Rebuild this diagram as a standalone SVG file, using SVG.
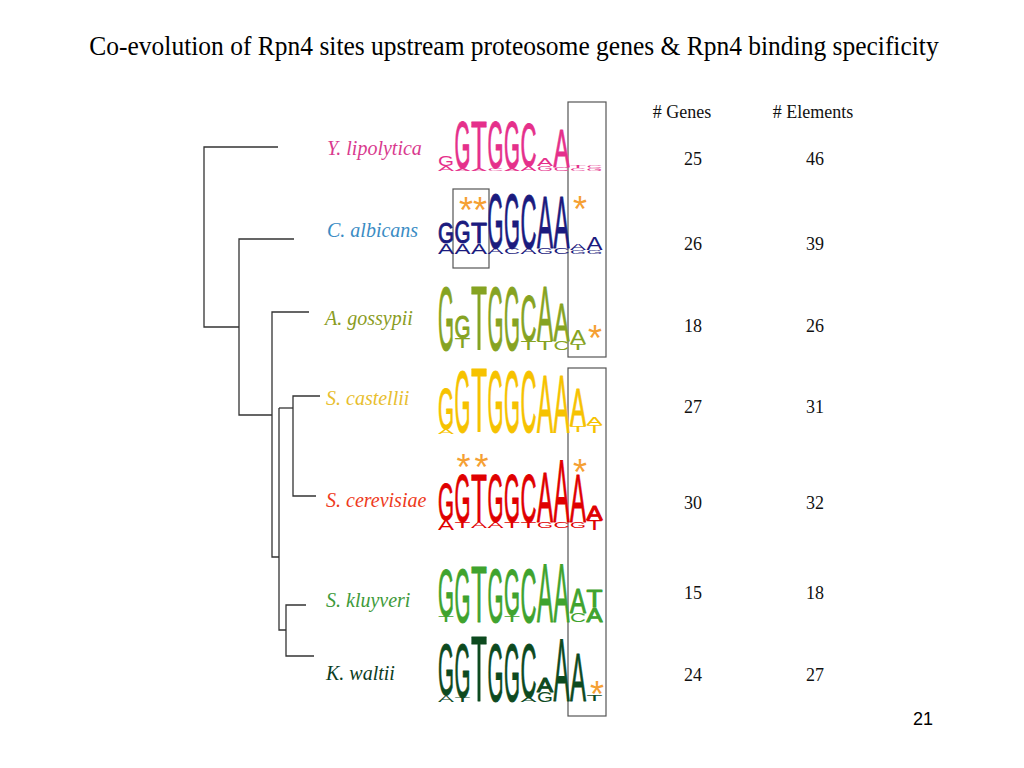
<svg xmlns="http://www.w3.org/2000/svg" width="1024" height="768" viewBox="0 0 1024 768">
<style>
.title{font-family:"Liberation Serif","Times New Roman",serif;font-size:25.5px;fill:#000}
.hdr{font-family:"Liberation Serif","Times New Roman",serif;font-size:18px;fill:#111;text-anchor:middle}
.sp{font-family:"Liberation Serif","Times New Roman",serif;font-style:italic;font-size:20px}
.pg{font-family:"Liberation Sans",Arial,sans-serif;font-size:18px;fill:#000;text-anchor:middle}
.lg text{font-family:"Liberation Sans",Arial,sans-serif;font-weight:normal;stroke-width:1;stroke-linejoin:round}
.lg text.t{stroke:none}
.star{font-family:"Liberation Sans",Arial,sans-serif;font-weight:normal;font-size:36px;fill:#F5A033;text-anchor:middle}
.tree{stroke:#333;stroke-width:1.3;fill:none}
.box{stroke:#555;stroke-width:1.2;fill:none}
</style>
<text class="title" transform="translate(514,55) scale(1,1.07)" text-anchor="middle">Co-evolution of Rpn4 sites upstream proteosome genes &amp; Rpn4 binding specificity</text>

<g id="connectors" class="tree">
<path d="M278,147 H204 V327 H239"/>
<path d="M294,239 H239 V415 H272"/>
<path d="M309,312 H272 V557 H279"/>
<path d="M320,396 H293 V496 H316"/>
<path d="M279,408 H293"/>
<path d="M279,408 V630 H286"/>
<path d="M306,605 H286 V656 H314"/>
</g>

<g id="boxes" class="box">
<rect x="568" y="102" width="38" height="255"/>
<rect x="568" y="368" width="38" height="348"/>
<rect x="453" y="189" width="36" height="79"/>
</g>

<g id="headers">
<text class="hdr" x="682" y="118"># Genes</text>
<text class="hdr" x="813" y="118"># Elements</text>
</g>

<g id="node-ylipolytica">
<text class="sp" x="327" y="155" fill="#D93A8E">Y. lipolytica</text>
<g class="lg" fill="#E5308B" stroke="#E5308B">
<text class="t" x="438" y="166" font-size="14" textLength="16" lengthAdjust="spacingAndGlyphs">G</text>
<text class="t" x="438" y="171" font-size="7" textLength="16" lengthAdjust="spacingAndGlyphs">A</text>
<text x="454.5" y="168" font-size="67" textLength="16" lengthAdjust="spacingAndGlyphs">G</text>
<text class="t" x="454.5" y="171" font-size="4.2" textLength="16" lengthAdjust="spacingAndGlyphs">A</text>
<text x="471" y="168" font-size="67" textLength="16" lengthAdjust="spacingAndGlyphs">T</text>
<text class="t" x="471" y="171" font-size="4.2" textLength="16" lengthAdjust="spacingAndGlyphs">A</text>
<text x="487.5" y="168" font-size="67" textLength="16" lengthAdjust="spacingAndGlyphs">G</text>
<text class="t" x="487.5" y="171" font-size="4.2" textLength="16" lengthAdjust="spacingAndGlyphs">C</text>
<text x="504" y="168" font-size="67" textLength="16" lengthAdjust="spacingAndGlyphs">G</text>
<text class="t" x="504" y="171" font-size="4.2" textLength="16" lengthAdjust="spacingAndGlyphs">A</text>
<text x="520.5" y="166" font-size="61.5" textLength="16" lengthAdjust="spacingAndGlyphs">C</text>
<text class="t" x="520.5" y="171" font-size="7" textLength="16" lengthAdjust="spacingAndGlyphs">A</text>
<text class="t" x="537" y="166" font-size="11.2" textLength="16" lengthAdjust="spacingAndGlyphs">A</text>
<text class="t" x="537" y="171" font-size="7" textLength="16" lengthAdjust="spacingAndGlyphs">G</text>
<text x="553.5" y="167" font-size="54.5" textLength="16" lengthAdjust="spacingAndGlyphs">A</text>
<text class="t" x="553.5" y="171" font-size="5.6" textLength="16" lengthAdjust="spacingAndGlyphs">C</text>
<text class="t" x="570" y="168" font-size="4.2" textLength="16" lengthAdjust="spacingAndGlyphs">T</text>
<text class="t" x="570" y="171" font-size="4.2" textLength="16" lengthAdjust="spacingAndGlyphs">C</text>
<text class="t" x="586.5" y="168" font-size="4.2" textLength="16" lengthAdjust="spacingAndGlyphs">C</text>
<text class="t" x="586.5" y="171" font-size="4.2" textLength="16" lengthAdjust="spacingAndGlyphs">G</text>
</g>
<text class="hdr" x="693" y="165">25</text>
<text class="hdr" x="815" y="165">46</text>
</g>

<g id="node-calbicans">
<text class="sp" x="327" y="237" fill="#3A8CC4">C. albicans</text>
<g class="lg" fill="#1B1B7E" stroke="#1B1B7E">
<text x="438" y="243" font-size="29.3" textLength="16" lengthAdjust="spacingAndGlyphs">G</text>
<text class="t" x="438" y="254" font-size="15.4" textLength="16" lengthAdjust="spacingAndGlyphs">A</text>
<text x="454.5" y="243" font-size="32" textLength="16" lengthAdjust="spacingAndGlyphs">G</text>
<text class="t" x="454.5" y="254" font-size="15.4" textLength="16" lengthAdjust="spacingAndGlyphs">A</text>
<text x="471" y="243" font-size="29.3" textLength="16" lengthAdjust="spacingAndGlyphs">T</text>
<text class="t" x="471" y="254" font-size="15.4" textLength="16" lengthAdjust="spacingAndGlyphs">A</text>
<text x="487.5" y="248" font-size="78.2" textLength="16" lengthAdjust="spacingAndGlyphs">G</text>
<text class="t" x="487.5" y="254" font-size="8.4" textLength="16" lengthAdjust="spacingAndGlyphs">A</text>
<text x="504" y="248" font-size="78.2" textLength="16" lengthAdjust="spacingAndGlyphs">G</text>
<text class="t" x="504" y="254" font-size="8.4" textLength="16" lengthAdjust="spacingAndGlyphs">C</text>
<text x="520.5" y="248" font-size="75.4" textLength="16" lengthAdjust="spacingAndGlyphs">C</text>
<text class="t" x="520.5" y="254" font-size="8.4" textLength="16" lengthAdjust="spacingAndGlyphs">A</text>
<text x="537" y="248" font-size="74" textLength="16" lengthAdjust="spacingAndGlyphs">A</text>
<text class="t" x="537" y="254" font-size="8.4" textLength="16" lengthAdjust="spacingAndGlyphs">G</text>
<text x="553.5" y="248" font-size="74" textLength="16" lengthAdjust="spacingAndGlyphs">A</text>
<text class="t" x="553.5" y="254" font-size="8.4" textLength="16" lengthAdjust="spacingAndGlyphs">C</text>
<text class="t" x="570" y="250" font-size="8.4" textLength="16" lengthAdjust="spacingAndGlyphs">A</text>
<text class="t" x="570" y="254" font-size="5.6" textLength="16" lengthAdjust="spacingAndGlyphs">G</text>
<text class="t" x="586.5" y="250" font-size="18.2" textLength="16" lengthAdjust="spacingAndGlyphs">A</text>
<text class="t" x="586.5" y="254" font-size="5.6" textLength="16" lengthAdjust="spacingAndGlyphs">G</text>
</g>
<text class="star" x="466" y="223">*</text>
<text class="star" x="480" y="223">*</text>
<text class="star" x="580" y="222">*</text>
<text class="hdr" x="693" y="250">26</text>
<text class="hdr" x="815" y="250">39</text>
</g>

<g id="node-agossypii">
<text class="sp" x="325" y="325" fill="#8A9C1E">A. gossypii</text>
<g class="lg" fill="#86A322" stroke="#86A322">
<text x="438" y="350" font-size="90.8" textLength="16" lengthAdjust="spacingAndGlyphs">G</text>
<text x="454.5" y="338" font-size="32" textLength="16" lengthAdjust="spacingAndGlyphs">G</text>
<text class="t" x="454.5" y="348" font-size="14" textLength="16" lengthAdjust="spacingAndGlyphs">T</text>
<text x="471" y="350" font-size="90.8" textLength="16" lengthAdjust="spacingAndGlyphs">T</text>
<text x="487.5" y="350" font-size="90.8" textLength="16" lengthAdjust="spacingAndGlyphs">G</text>
<text x="504" y="350" font-size="90.8" textLength="16" lengthAdjust="spacingAndGlyphs">G</text>
<text x="520.5" y="341" font-size="64.2" textLength="16" lengthAdjust="spacingAndGlyphs">C</text>
<text class="t" x="520.5" y="350" font-size="12.6" textLength="16" lengthAdjust="spacingAndGlyphs">T</text>
<text x="537" y="341" font-size="78.2" textLength="16" lengthAdjust="spacingAndGlyphs">A</text>
<text class="t" x="537" y="350" font-size="12.6" textLength="16" lengthAdjust="spacingAndGlyphs">T</text>
<text x="553.5" y="341" font-size="53.1" textLength="16" lengthAdjust="spacingAndGlyphs">A</text>
<text class="t" x="553.5" y="350" font-size="12.6" textLength="16" lengthAdjust="spacingAndGlyphs">C</text>
<text class="t" x="570" y="344" font-size="19.6" textLength="16" lengthAdjust="spacingAndGlyphs">A</text>
<text class="t" x="570" y="350" font-size="8.4" textLength="16" lengthAdjust="spacingAndGlyphs">T</text>
</g>
<text class="star" x="595" y="351">*</text>
<text class="hdr" x="693" y="332">18</text>
<text class="hdr" x="815" y="332">26</text>
</g>

<g id="node-scastellii">
<text class="sp" x="326" y="405" fill="#E8BE2E">S. castellii</text>
<g class="lg" fill="#F6C200" stroke="#F6C200">
<text x="438" y="429" font-size="57.3" textLength="16" lengthAdjust="spacingAndGlyphs">G</text>
<text class="t" x="438" y="434" font-size="7" textLength="16" lengthAdjust="spacingAndGlyphs">A</text>
<text x="454.5" y="432" font-size="86.6" textLength="16" lengthAdjust="spacingAndGlyphs">G</text>
<text x="471" y="432" font-size="90.8" textLength="16" lengthAdjust="spacingAndGlyphs">T</text>
<text x="487.5" y="432" font-size="86.6" textLength="16" lengthAdjust="spacingAndGlyphs">G</text>
<text x="504" y="432" font-size="86.6" textLength="16" lengthAdjust="spacingAndGlyphs">G</text>
<text x="520.5" y="432" font-size="86.6" textLength="16" lengthAdjust="spacingAndGlyphs">C</text>
<text x="537" y="432" font-size="82.4" textLength="16" lengthAdjust="spacingAndGlyphs">A</text>
<text x="553.5" y="432" font-size="82.4" textLength="16" lengthAdjust="spacingAndGlyphs">A</text>
<text x="570" y="426" font-size="53.1" textLength="16" lengthAdjust="spacingAndGlyphs">A</text>
<text class="t" x="570" y="432" font-size="8.4" textLength="16" lengthAdjust="spacingAndGlyphs">T</text>
<text class="t" x="586.5" y="425" font-size="11.2" textLength="16" lengthAdjust="spacingAndGlyphs">A</text>
<text class="t" x="586.5" y="433" font-size="11.2" textLength="16" lengthAdjust="spacingAndGlyphs">T</text>
</g>
<text class="hdr" x="693" y="413">27</text>
<text class="hdr" x="815" y="413">31</text>
</g>

<g id="node-scerevisiae">
<text class="sp" x="326" y="507" fill="#EE3A1C">S. cerevisiae</text>
<g class="lg" fill="#E00000" stroke="#E00000">
<text x="438" y="520" font-size="51.7" textLength="16" lengthAdjust="spacingAndGlyphs">G</text>
<text class="t" x="438" y="530" font-size="14" textLength="16" lengthAdjust="spacingAndGlyphs">A</text>
<text x="454.5" y="522" font-size="68.4" textLength="16" lengthAdjust="spacingAndGlyphs">G</text>
<text class="t" x="454.5" y="528" font-size="8.4" textLength="16" lengthAdjust="spacingAndGlyphs">T</text>
<text x="471" y="522" font-size="68.4" textLength="16" lengthAdjust="spacingAndGlyphs">T</text>
<text class="t" x="471" y="528" font-size="8.4" textLength="16" lengthAdjust="spacingAndGlyphs">A</text>
<text x="487.5" y="522" font-size="68.4" textLength="16" lengthAdjust="spacingAndGlyphs">G</text>
<text class="t" x="487.5" y="528" font-size="8.4" textLength="16" lengthAdjust="spacingAndGlyphs">A</text>
<text x="504" y="522" font-size="68.4" textLength="16" lengthAdjust="spacingAndGlyphs">G</text>
<text class="t" x="504" y="528" font-size="8.4" textLength="16" lengthAdjust="spacingAndGlyphs">T</text>
<text x="520.5" y="522" font-size="68.4" textLength="16" lengthAdjust="spacingAndGlyphs">C</text>
<text class="t" x="520.5" y="528" font-size="8.4" textLength="16" lengthAdjust="spacingAndGlyphs">T</text>
<text x="537" y="522" font-size="69.8" textLength="16" lengthAdjust="spacingAndGlyphs">A</text>
<text class="t" x="537" y="528" font-size="8.4" textLength="16" lengthAdjust="spacingAndGlyphs">G</text>
<text x="553.5" y="522" font-size="89.4" textLength="16" lengthAdjust="spacingAndGlyphs">A</text>
<text class="t" x="553.5" y="528" font-size="8.4" textLength="16" lengthAdjust="spacingAndGlyphs">C</text>
<text x="570" y="522" font-size="68.4" textLength="16" lengthAdjust="spacingAndGlyphs">A</text>
<text class="t" x="570" y="528" font-size="8.4" textLength="16" lengthAdjust="spacingAndGlyphs">G</text>
<text x="586.5" y="520" font-size="21" textLength="16" lengthAdjust="spacingAndGlyphs">A</text>
<text class="t" x="586.5" y="530" font-size="14" textLength="16" lengthAdjust="spacingAndGlyphs">T</text>
</g>
<text class="star" x="463.5" y="480">*</text>
<text class="star" x="481.5" y="480">*</text>
<text class="star" x="580" y="485">*</text>
<text class="hdr" x="693" y="509">30</text>
<text class="hdr" x="815" y="509">32</text>
</g>

<g id="node-skluyveri">
<text class="sp" x="326" y="607" fill="#3E9A3A">S. kluyveri</text>
<g class="lg" fill="#3FA32E" stroke="#3FA32E">
<text x="438" y="616" font-size="67" textLength="16" lengthAdjust="spacingAndGlyphs">G</text>
<text class="t" x="438" y="622" font-size="8.4" textLength="16" lengthAdjust="spacingAndGlyphs">T</text>
<text x="454.5" y="622" font-size="75.4" textLength="16" lengthAdjust="spacingAndGlyphs">G</text>
<text x="471" y="622" font-size="79.6" textLength="16" lengthAdjust="spacingAndGlyphs">T</text>
<text x="487.5" y="622" font-size="75.4" textLength="16" lengthAdjust="spacingAndGlyphs">G</text>
<text x="504" y="615" font-size="65.6" textLength="16" lengthAdjust="spacingAndGlyphs">G</text>
<text class="t" x="504" y="622" font-size="9.8" textLength="16" lengthAdjust="spacingAndGlyphs">T</text>
<text x="520.5" y="622" font-size="75.4" textLength="16" lengthAdjust="spacingAndGlyphs">C</text>
<text x="537" y="622" font-size="83.8" textLength="16" lengthAdjust="spacingAndGlyphs">A</text>
<text x="553.5" y="622" font-size="83.8" textLength="16" lengthAdjust="spacingAndGlyphs">A</text>
<text x="570" y="613" font-size="35" textLength="16" lengthAdjust="spacingAndGlyphs">A</text>
<text class="t" x="570" y="622" font-size="12.6" textLength="16" lengthAdjust="spacingAndGlyphs">C</text>
<text x="586.5" y="607" font-size="23.7" textLength="16" lengthAdjust="spacingAndGlyphs">T</text>
<text x="586.5" y="622" font-size="21" textLength="16" lengthAdjust="spacingAndGlyphs">A</text>
</g>
<text class="hdr" x="693" y="599">15</text>
<text class="hdr" x="815" y="599">18</text>
</g>

<g id="node-kwaltii">
<text class="sp" x="326" y="680" fill="#0B3D1E">K. waltii</text>
<g class="lg" fill="#0D4A1F" stroke="#0D4A1F">
<text x="438" y="695" font-size="72.6" textLength="16" lengthAdjust="spacingAndGlyphs">G</text>
<text class="t" x="438" y="702" font-size="9.8" textLength="16" lengthAdjust="spacingAndGlyphs">A</text>
<text x="454.5" y="697" font-size="75.4" textLength="16" lengthAdjust="spacingAndGlyphs">G</text>
<text class="t" x="454.5" y="702" font-size="7" textLength="16" lengthAdjust="spacingAndGlyphs">T</text>
<text x="471" y="701" font-size="92.2" textLength="16" lengthAdjust="spacingAndGlyphs">T</text>
<text x="487.5" y="701" font-size="81" textLength="16" lengthAdjust="spacingAndGlyphs">G</text>
<text x="504" y="701" font-size="81" textLength="16" lengthAdjust="spacingAndGlyphs">G</text>
<text x="520.5" y="697" font-size="75.4" textLength="16" lengthAdjust="spacingAndGlyphs">C</text>
<text class="t" x="520.5" y="702" font-size="7" textLength="16" lengthAdjust="spacingAndGlyphs">A</text>
<text x="537" y="692" font-size="19.6" textLength="16" lengthAdjust="spacingAndGlyphs">A</text>
<text class="t" x="537" y="702" font-size="14" textLength="16" lengthAdjust="spacingAndGlyphs">G</text>
<text x="553.5" y="701" font-size="89.4" textLength="16" lengthAdjust="spacingAndGlyphs">A</text>
<text x="570" y="701" font-size="68.4" textLength="16" lengthAdjust="spacingAndGlyphs">A</text>
<text class="t" x="586.5" y="701" font-size="8.4" textLength="16" lengthAdjust="spacingAndGlyphs">T</text>
</g>
<text class="star" x="597" y="707">*</text>
<text class="hdr" x="693" y="681">24</text>
<text class="hdr" x="815" y="681">27</text>
</g>

<text class="pg" x="923" y="725">21</text>
</svg>
